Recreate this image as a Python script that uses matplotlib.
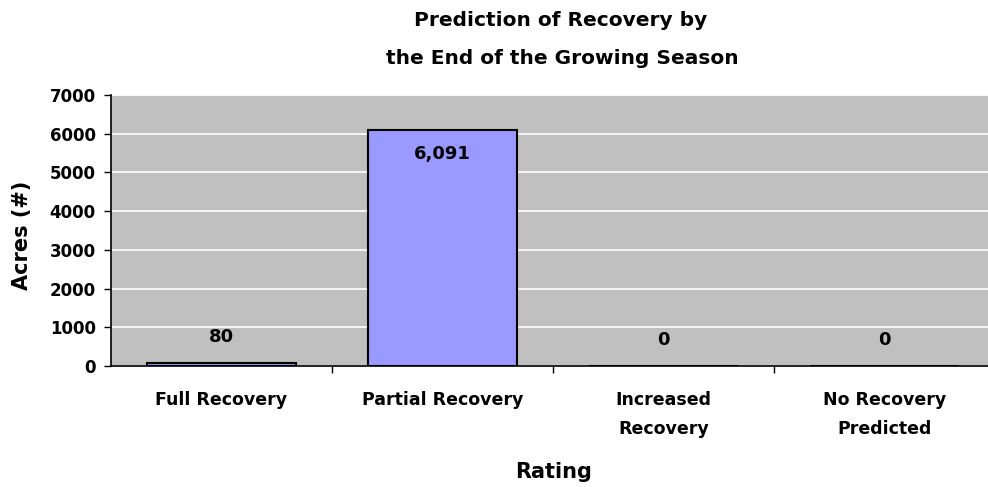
import matplotlib
matplotlib.use("Agg")
import matplotlib.pyplot as plt
import numpy as np

categories = ["Full Recovery", "Partial Recovery", "Increased\nRecovery", "No Recovery\nPredicted"]
values = [80, 6091, 0, 0]
value_labels = ["80", "6,091", "0", "0"]
yticks = [0, 1000, 2000, 3000, 4000, 5000, 6000, 7000]

plt.rcParams['font.family'] = ['DejaVu Sans']
plt.rcParams['font.weight'] = 'bold'

W, H = 988, 487
fig = plt.figure(figsize=(W / 100, H / 100), dpi=100)
ax = fig.add_axes([111 / W, 1 - 366 / H, (995 - 111) / W, (366 - 95) / H])
ax.set_facecolor('#C0C0C0')

x = np.arange(len(categories))
ax.bar(x, values, width=0.67, color='#9999FF', edgecolor='black', linewidth=1.5, zorder=3)

ax.set_xlim(-0.5, len(categories) - 0.5)
ax.set_ylim(0, 7000)
ax.set_yticks(yticks)
ax.set_yticklabels([str(t) for t in yticks], fontsize=12, fontweight='bold')
ax.yaxis.grid(True, color='white', linewidth=1.2, zorder=0)
ax.set_axisbelow(True)

ax.set_xticks(x)
ax.set_xticklabels(categories, fontsize=12.5, fontweight='bold', linespacing=1.75)
ax.tick_params(axis='x', which='major', length=0, pad=18)
ax.set_xticks(np.arange(0.5, len(categories) - 0.5, 1), minor=True)
ax.tick_params(axis='x', which='minor', length=5, direction='out', width=1)
ax.tick_params(axis='y', length=5, direction='out', width=1, pad=6)

for s in ['top', 'right']:
    ax.spines[s].set_visible(False)
for s in ['left', 'bottom']:
    ax.spines[s].set_linewidth(1.2)
    ax.spines[s].set_color('black')

for xi, v, lab in zip(x, values, value_labels):
    off = -17 if v > 3000 else 18.5
    ax.annotate(lab, (xi, v), xytext=(0, off), textcoords='offset points',
                ha='center', va='center', fontsize=13, fontweight='bold')

ax.set_ylabel("Acres (#)", fontsize=15, fontweight='bold', va='center', ha='center')
ax.yaxis.set_label_coords((22 - 111) / (995 - 111), (366 - 235) / (366 - 95))
ax.set_xlabel("Rating", fontsize=15, fontweight='bold', va='center', ha='center')
ax.xaxis.set_label_coords((554 - 111) / (995 - 111), (366 - 472) / (366 - 95))

fig.text(561 / W, 1 - 20 / H, "Prediction of Recovery by",
         ha='center', va='center', fontsize=14.5, fontweight='bold')
fig.text(562 / W, 1 - 58 / H, "the End of the Growing Season",
         ha='center', va='center', fontsize=14.5, fontweight='bold')

fig.savefig("out.png", dpi=100)
